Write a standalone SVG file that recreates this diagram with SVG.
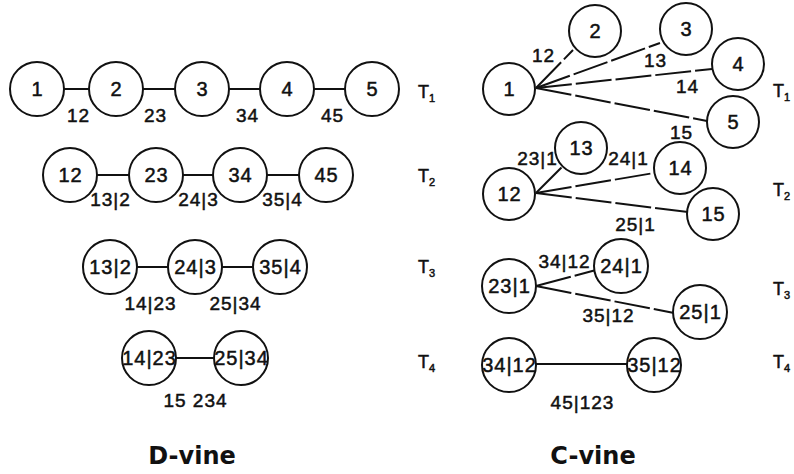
<svg xmlns="http://www.w3.org/2000/svg" width="794" height="474" viewBox="0 0 794 474">
<style>
  .n { fill: #fff; stroke: #111; stroke-width: 2; }
  .e { stroke: #111; stroke-width: 2; fill: none; }
  .d { stroke-dasharray: 36 4; }
  text { font-family: "Liberation Sans", Arial, sans-serif; fill: #111; stroke: #111; stroke-width: 0.5; }
  .nl { font-size: 20px; letter-spacing: 1px; text-anchor: middle; }
  .el { font-size: 19px; letter-spacing: 1px; text-anchor: middle; }
  .tl { font-size: 18px; }
  .sub { font-size: 11px; }
  .title { font-family: "DejaVu Sans", sans-serif; font-size: 24px; font-weight: bold; text-anchor: middle; stroke: none; }
</style>
<rect width="794" height="474" fill="#fff"/>

<!-- connectors -->
<g id="connectors">
  <!-- D-vine T1 -->
  <line class="e" x1="64" y1="89" x2="89" y2="89"/>
  <line class="e" x1="143" y1="89" x2="175" y2="89"/>
  <line class="e" x1="229" y1="89" x2="260" y2="89"/>
  <line class="e" x1="314" y1="89" x2="345" y2="89"/>
  <!-- D-vine T2 -->
  <line class="e" x1="97" y1="175" x2="129" y2="175"/>
  <line class="e" x1="183" y1="175" x2="213" y2="175"/>
  <line class="e" x1="267" y1="175" x2="299" y2="175"/>
  <!-- D-vine T3 -->
  <line class="e" x1="137" y1="267" x2="168" y2="267"/>
  <line class="e" x1="222" y1="267" x2="253" y2="267"/>
  <!-- D-vine T4 -->
  <line class="e" x1="175" y1="358" x2="214" y2="358"/>
  <!-- C-vine T1 -->
  <line class="e d" x1="536" y1="88" x2="573" y2="50"/>
  <line class="e d" x1="536" y1="88" x2="660" y2="43"/>
  <line class="e d" x1="536" y1="88" x2="712" y2="69"/>
  <line class="e d" x1="536" y1="88" x2="707" y2="121"/>
  <!-- C-vine T2 -->
  <line class="e d" x1="536" y1="193" x2="562" y2="167"/>
  <line class="e d" x1="536" y1="193" x2="654" y2="173"/>
  <line class="e d" x1="536" y1="193" x2="688" y2="212"/>
  <!-- C-vine T3 -->
  <line class="e d" x1="536" y1="286" x2="596" y2="270"/>
  <line class="e d" x1="536" y1="286" x2="674" y2="313"/>
  <!-- C-vine T4 -->
  <line class="e" x1="536" y1="364" x2="628" y2="364"/>
</g>

<!-- D-vine nodes -->
<g id="d1"><circle class="n" cx="37" cy="89" r="27"/><text class="nl" x="37.5" y="96">1</text></g>
<g id="d2"><circle class="n" cx="116" cy="89" r="27"/><text class="nl" x="116.5" y="96">2</text></g>
<g id="d3"><circle class="n" cx="202" cy="89" r="27"/><text class="nl" x="202.5" y="96">3</text></g>
<g id="d4"><circle class="n" cx="287" cy="89" r="27"/><text class="nl" x="287.5" y="96">4</text></g>
<g id="d5"><circle class="n" cx="372" cy="89" r="27"/><text class="nl" x="372.5" y="96">5</text></g>

<g id="d12"><circle class="n" cx="70" cy="175" r="27"/><text class="nl" x="70.5" y="182">12</text></g>
<g id="d23"><circle class="n" cx="156" cy="175" r="27"/><text class="nl" x="156.5" y="182">23</text></g>
<g id="d34"><circle class="n" cx="240" cy="175" r="27"/><text class="nl" x="240.5" y="182">34</text></g>
<g id="d45"><circle class="n" cx="326" cy="175" r="27"/><text class="nl" x="326.5" y="182">45</text></g>

<g id="d13_2"><circle class="n" cx="110" cy="267" r="27"/><text class="nl" x="110.5" y="274">13|2</text></g>
<g id="d24_3"><circle class="n" cx="195" cy="267" r="27"/><text class="nl" x="195.5" y="274">24|3</text></g>
<g id="d35_4"><circle class="n" cx="280" cy="267" r="27"/><text class="nl" x="280.5" y="274">35|4</text></g>

<g id="d14_23"><circle class="n" cx="149" cy="358" r="27"/><text class="nl" x="149.5" y="365">14|23</text></g>
<g id="d25_34"><circle class="n" cx="241" cy="358" r="27"/><text class="nl" x="241.5" y="365">25|34</text></g>

<!-- D-vine edge labels -->
<g id="d-edge-labels">
  <text class="el" x="78.5" y="122">12</text>
  <text class="el" x="155.5" y="122">23</text>
  <text class="el" x="247.5" y="122">34</text>
  <text class="el" x="332.5" y="122">45</text>
  <text class="el" x="110.5" y="206">13|2</text>
  <text class="el" x="198.5" y="206">24|3</text>
  <text class="el" x="282.5" y="206">35|4</text>
  <text class="el" x="150.5" y="310">14|23</text>
  <text class="el" x="235.5" y="310">25|34</text>
  <text class="el" x="195.5" y="407">15 234</text>
</g>

<!-- D-vine tree labels -->
<g id="d-tree-labels">
  <text class="tl" x="418" y="98">T<tspan class="sub" dy="4">1</tspan></text>
  <text class="tl" x="418" y="182">T<tspan class="sub" dy="4">2</tspan></text>
  <text class="tl" x="418" y="273">T<tspan class="sub" dy="4">3</tspan></text>
  <text class="tl" x="418" y="368">T<tspan class="sub" dy="4">4</tspan></text>
</g>

<!-- C-vine nodes -->
<g id="c1"><circle class="n" cx="509" cy="89" r="26"/><text class="nl" x="509.5" y="96">1</text></g>
<g id="c2"><circle class="n" cx="595" cy="31" r="26"/><text class="nl" x="595.5" y="38">2</text></g>
<g id="c3"><circle class="n" cx="686" cy="29" r="26"/><text class="nl" x="686.5" y="36">3</text></g>
<g id="c4"><circle class="n" cx="738" cy="64" r="26"/><text class="nl" x="738.5" y="71">4</text></g>
<g id="c5"><circle class="n" cx="733" cy="122" r="26"/><text class="nl" x="733.5" y="129">5</text></g>

<g id="c12"><circle class="n" cx="509" cy="194" r="26"/><text class="nl" x="509.5" y="201">12</text></g>
<g id="c13"><circle class="n" cx="581" cy="148" r="26"/><text class="nl" x="581.5" y="155">13</text></g>
<g id="c14"><circle class="n" cx="680" cy="168" r="26"/><text class="nl" x="680.5" y="175">14</text></g>
<g id="c15"><circle class="n" cx="713" cy="214" r="26"/><text class="nl" x="713.5" y="221">15</text></g>

<g id="c23_1"><circle class="n" cx="509" cy="286" r="27"/><text class="nl" x="509.5" y="293">23|1</text></g>
<g id="c24_1"><circle class="n" cx="621" cy="266" r="27"/><text class="nl" x="621.5" y="273">24|1</text></g>
<g id="c25_1"><circle class="n" cx="700" cy="312" r="27"/><text class="nl" x="700.5" y="319">25|1</text></g>

<g id="c34_12"><circle class="n" cx="509" cy="365" r="27"/><text class="nl" x="509.5" y="372">34|12</text></g>
<g id="c35_12"><circle class="n" cx="654" cy="365" r="27"/><text class="nl" x="654.5" y="372">35|12</text></g>

<!-- C-vine edge labels -->
<g id="c-edge-labels">
  <text class="el" x="543.5" y="62">12</text>
  <text class="el" x="655.5" y="67">13</text>
  <text class="el" x="687.5" y="93">14</text>
  <text class="el" x="681.5" y="139">15</text>
  <text class="el" x="537.5" y="165">23|1</text>
  <text class="el" x="628.5" y="165">24|1</text>
  <text class="el" x="635.5" y="231">25|1</text>
  <text class="el" x="564.5" y="268">34|12</text>
  <text class="el" x="608.5" y="322">35|12</text>
  <text class="el" x="582.5" y="409">45|123</text>
</g>

<!-- C-vine tree labels -->
<g id="c-tree-labels">
  <text class="tl" x="773" y="97">T<tspan class="sub" dy="4">1</tspan></text>
  <text class="tl" x="773" y="196">T<tspan class="sub" dy="4">2</tspan></text>
  <text class="tl" x="773" y="295">T<tspan class="sub" dy="4">3</tspan></text>
  <text class="tl" x="773" y="368">T<tspan class="sub" dy="4">4</tspan></text>
</g>

<!-- titles -->
<g id="titles">
  <text class="title" x="192" y="464">D-vine</text>
  <text class="title" x="593" y="464">C-vine</text>
</g>
</svg>
